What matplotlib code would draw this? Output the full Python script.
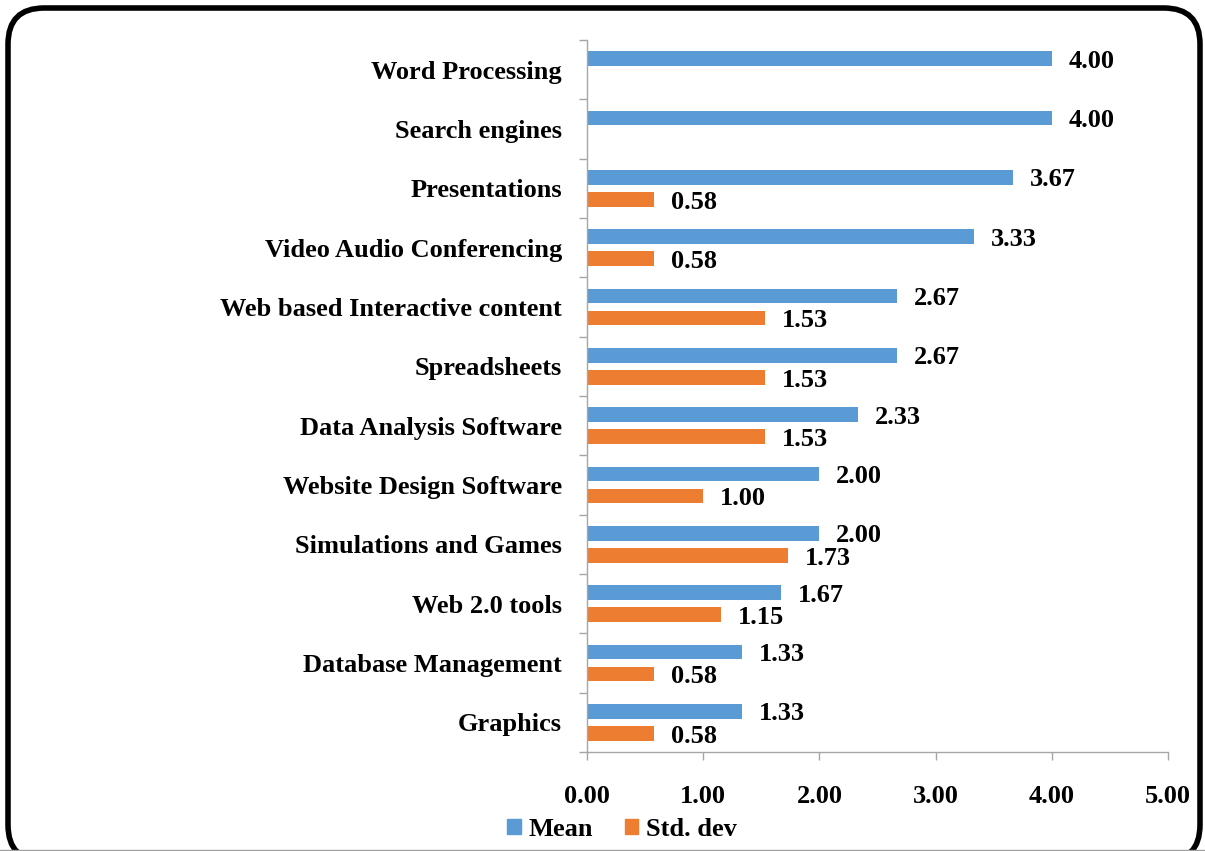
import matplotlib
matplotlib.use("Agg")
import matplotlib.pyplot as plt
import numpy as np
from matplotlib.patches import FancyBboxPatch, Patch
from matplotlib.lines import Line2D

categories = ["Graphics", "Database Management", "Web 2.0 tools", "Simulations and Games",
              "Website Design Software", "Data Analysis Software", "Spreadsheets",
              "Web based Interactive content", "Video Audio Conferencing", "Presentations",
              "Search engines", "Word Processing"]
mean_vals = [1.33, 1.33, 1.67, 2.00, 2.00, 2.33, 2.67, 2.67, 3.33, 3.67, 4.00, 4.00]
std_vals = [0.58, 0.58, 1.15, 1.73, 1.00, 1.53, 1.53, 1.53, 0.58, 0.58, 0.0, 0.0]
xticks = [0, 1, 2, 3, 4, 5]

plt.rcParams['font.family'] = ['Liberation Serif', 'DejaVu Serif']
plt.rcParams['font.weight'] = 'bold'

blue = "#5B9BD5"
orange = "#ED7D31"
fs = 19

fig = plt.figure(figsize=(12.05, 8.51), dpi=100)
ax = fig.add_axes([587/1205, 1-752/851, (1168-587)/1205, (752-40)/851])

y = np.arange(len(categories))
h = 0.25
off = 0.185
ax.barh(y + off, mean_vals, height=h, color=blue, label="Mean")
ax.barh(y - off, std_vals, height=h, color=orange, label="Std. dev")

for yi, v in zip(y, mean_vals):
    ax.text(v + 0.145, yi + off - 0.04, f"{v:.2f}", va="center", ha="left",
            fontsize=fs, fontweight="bold")
for yi, v in zip(y, std_vals):
    if v > 0:
        ax.text(v + 0.145, yi - off - 0.05, f"{v:.2f}", va="center", ha="left",
                fontsize=fs, fontweight="bold")

ax.set_xlim(0, 5)
ax.set_ylim(-0.5, len(categories) - 0.5)
ax.set_xticks(xticks)
ax.set_xticklabels([f"{t:.2f}" for t in xticks], fontsize=fs, fontweight="bold")
ax.set_yticks(y)
ax.set_yticklabels(categories, fontsize=fs, fontweight="bold")
ax.tick_params(axis="y", length=0, pad=18)
ax.set_yticks(np.arange(-0.5, len(categories), 1.0), minor=True)
ax.tick_params(axis="y", which="minor", length=6, color="#A6A6A6", width=1)
ax.tick_params(axis="x", length=6, color="#A6A6A6", width=1, pad=18)
for s in ["top", "right"]:
    ax.spines[s].set_visible(False)
for s in ["left", "bottom"]:
    ax.spines[s].set_color("#A6A6A6")
    ax.spines[s].set_linewidth(1)

handles = [Patch(color=blue), Patch(color=orange)]
leg = fig.legend(handles, ["Mean", "Std. dev"], loc="center", bbox_to_anchor=(622/1205, 1-829/851),
                 ncol=2, frameon=False, prop={"size": fs, "weight": "bold"},
                 handlelength=0.5, handleheight=0.5, handletextpad=0.3, columnspacing=1.2)

# border
border = FancyBboxPatch((8/1205, -10/851), (1200-8)/1205, (851-8+10)/851,
                        boxstyle="round,pad=0,rounding_size=0.03", transform=fig.transFigure,
                        fill=False, edgecolor="black", linewidth=4, clip_on=False,
                        mutation_aspect=1205/851)
fig.patches.append(border)
fig.add_artist(Line2D([0, 1], [1.5/851, 1.5/851], transform=fig.transFigure, color="#A0A0A0", lw=1))

fig.savefig("out.png", dpi=100)
